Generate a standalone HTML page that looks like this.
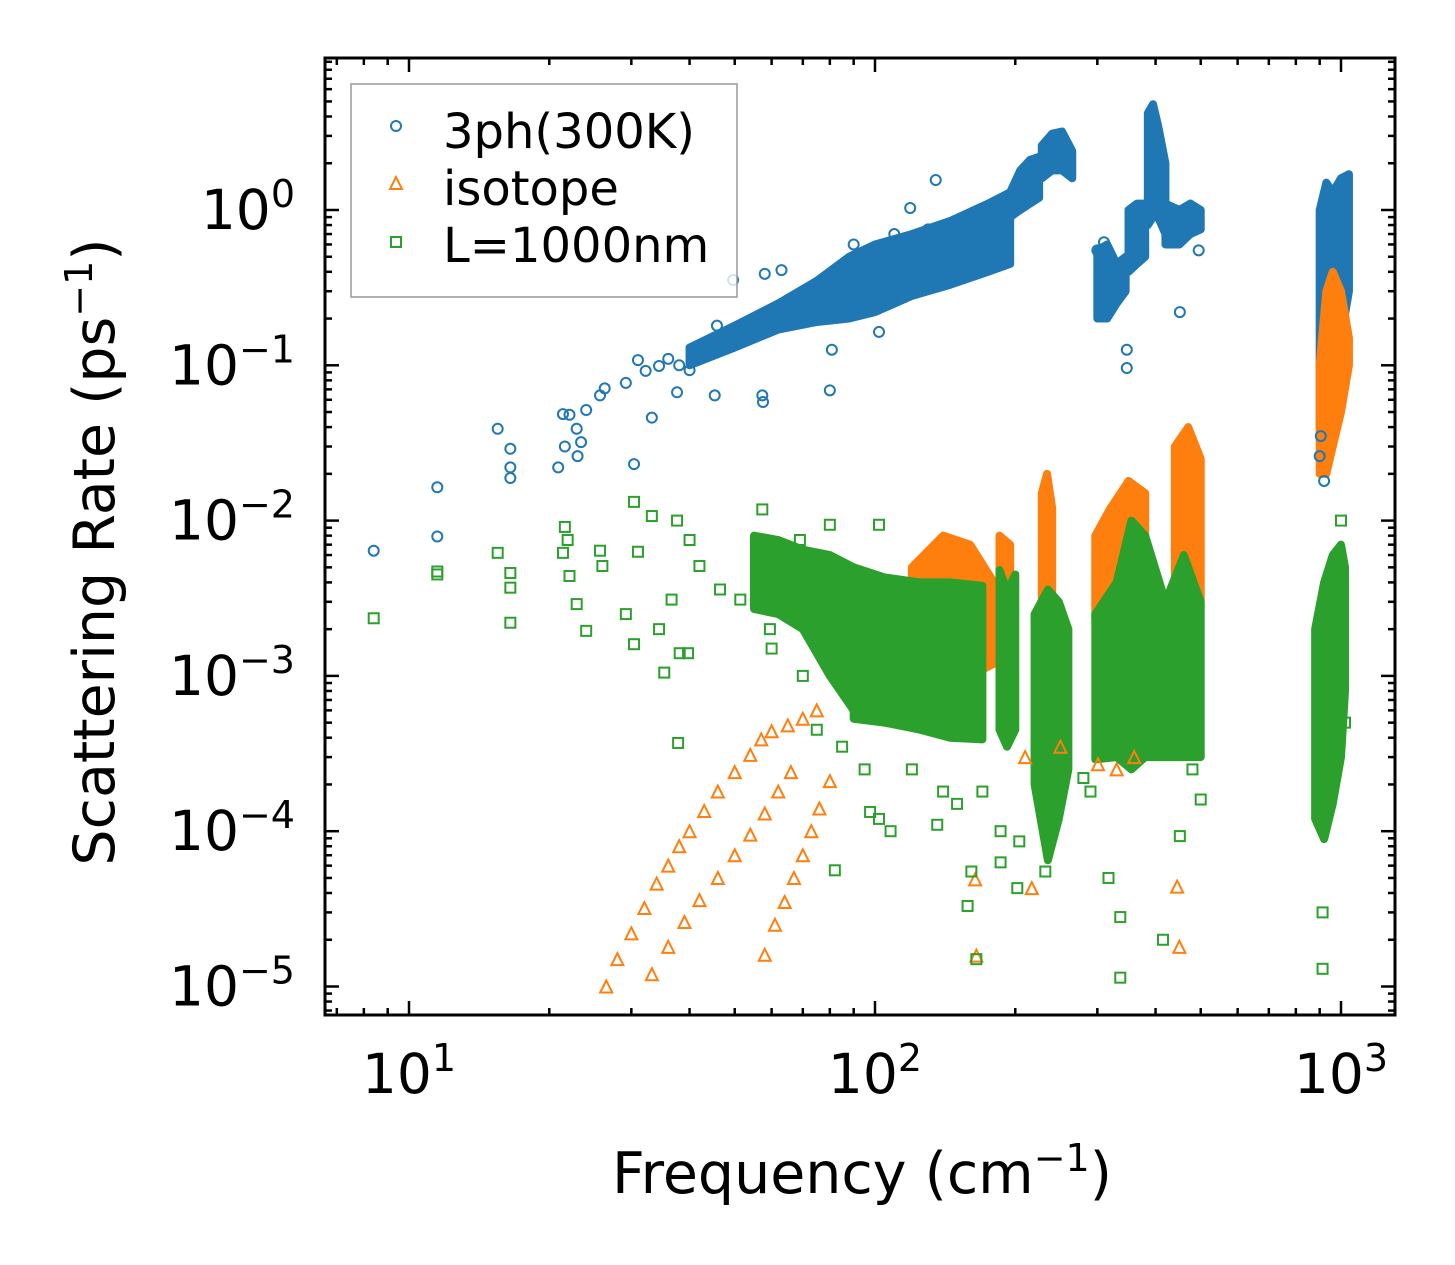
<!DOCTYPE html>
<html><head><meta charset="utf-8"><style>
html,body{margin:0;padding:0;background:#fff;}
svg{display:block;font-family:"DejaVu Sans","Liberation Sans",sans-serif;}
</style></head><body>
<svg id="chart" width="1455" height="1265" viewBox="0 0 1455 1265" xmlns="http://www.w3.org/2000/svg">
<g id="bands"></g>
<g id="marks"></g>
<g id="axes"></g>
<g id="legend">
  <rect x="351" y="84" width="386" height="213" fill="#fff" fill-opacity="0.8" stroke="#999" stroke-width="1.5"/>
  <circle cx="396" cy="126" r="5" fill="none" stroke="#1f77b4" stroke-width="2"/>
  <text x="443" y="148" font-size="48">3ph(300K)</text>
  <polygon points="396,177 390,189 402,189" fill="none" stroke="#ff7f0e" stroke-width="2"/>
  <text x="443" y="205" font-size="48">isotope</text>
  <rect x="391" y="237" width="10" height="10" fill="none" stroke="#2ca02c" stroke-width="2"/>
  <text x="443" y="262" font-size="48">L=1000nm</text>
</g>
<text x="862" y="1193" font-size="57" text-anchor="middle">Frequency (cm<tspan dy="-22" font-size="38">−1</tspan><tspan dy="22">)</tspan></text>
<text transform="translate(114,552) rotate(-90)" font-size="57" text-anchor="middle">Scattering Rate (ps<tspan dy="-22" font-size="38">−1</tspan><tspan dy="22">)</tspan></text>
</svg>
<script>
// ---- data ----
const xTickExps = [1, 2, 3];
const yTickExps = [0, -1, -2, -3, -4, -5];

const blueF = [8.4,11.5,11.5,15.5,16.5,16.5,16.5,20.9,21.4,21.6,22.1,22.9,23,23.4,24,25.7,26.3,30.4,29.2,31,32.2,33.2,34.4,37.6,40,45.8,45.3,49.6,58,63,57.5,57.3,80,80.8,102,119,135,186,347,347,451,495,900,920,905,36,38,42,44,52,55,60,68,72,90,110,130,160,300,310,320,325];
const blueR = [0.0064,0.0164,0.0079,0.039,0.029,0.022,0.0188,0.022,0.0485,0.030,0.048,0.039,0.026,0.032,0.0515,0.064,0.071,0.0231,0.077,0.108,0.092,0.046,0.099,0.067,0.093,0.18,0.064,0.354,0.388,0.41,0.058,0.064,0.069,0.126,0.164,1.03,1.56,0.64,0.126,0.096,0.22,0.55,0.026,0.018,0.035,0.11,0.1,0.12,0.13,0.15,0.17,0.2,0.22,0.25,0.6,0.7,0.75,0.9,0.55,0.62,0.5,0.3];

const orangeF = [26.5,28,30,32,34,36,38,40,43,46,50,54,57,60,65,70,75,33.2,36,39,42,46,50,54,58,62,66,58,61,64,67,70,73,76,80,164,165,217,445,450,301,210,250,330,360];
const orangeR = [1.0e-5,1.5e-5,2.2e-5,3.2e-5,4.6e-5,6e-5,8e-5,1.0e-4,1.35e-4,1.8e-4,2.4e-4,3.1e-4,3.9e-4,4.4e-4,4.8e-4,5.3e-4,6e-4,1.2e-5,1.8e-5,2.6e-5,3.6e-5,5e-5,7e-5,9.5e-5,1.3e-4,1.8e-4,2.4e-4,1.6e-5,2.5e-5,3.5e-5,5e-5,7e-5,1.0e-4,1.4e-4,2.1e-4,4.9e-5,1.58e-5,4.3e-5,4.4e-5,1.8e-5,2.7e-4,3e-4,3.5e-4,2.5e-4,3e-4];

const greenF = [8.4,11.5,11.5,15.5,16.5,16.5,16.5,21.4,21.6,21.9,22.1,22.9,24,26,25.7,29.2,30.4,30.4,31,33.2,34.4,35.3,38.1,37.8,39.7,36.6,37.6,40,42,46.5,51.4,57.3,59.5,69,80,82,102,97.6,102,108,136,158,161,186,202,186,165,204,232,317,336,336,415,451,913,913,1000,1020,60,70,75,85,95,120,140,150,170,280,290,480,500];
const greenR = [2.35e-3,4.7e-3,4.5e-3,6.2e-3,4.6e-3,3.7e-3,2.2e-3,6.2e-3,9.1e-3,7.5e-3,4.4e-3,2.9e-3,1.95e-3,5.1e-3,6.4e-3,2.5e-3,1.6e-3,0.0132,6.3e-3,0.0107,2e-3,1.05e-3,1.4e-3,3.7e-4,1.4e-3,3.1e-3,0.01,7.5e-3,5.1e-3,3.6e-3,3.1e-3,0.0118,2e-3,7.5e-3,0.0094,5.6e-5,9.4e-3,1.33e-4,1.2e-4,1.0e-4,1.1e-4,3.3e-5,5.5e-5,1.0e-4,4.3e-5,6.3e-5,1.5e-5,8.6e-5,5.5e-5,5e-5,2.8e-5,1.14e-5,2e-5,9.3e-5,1.3e-5,3e-5,0.01,5e-4,1.5e-3,1.0e-3,4.5e-4,3.5e-4,2.5e-4,2.5e-4,1.8e-4,1.5e-4,1.8e-4,2.2e-4,1.8e-4,2.5e-4,1.6e-4];

// dense clusters: [freq list, low rate list, high rate list]
const blueBands = [
  [[40,50,62,75,88,100,120,145,175,195],[0.1,0.13,0.17,0.19,0.2,0.22,0.28,0.33,0.4,0.45],[0.13,0.18,0.25,0.35,0.5,0.6,0.7,0.85,1.1,1.3]],
  [[195,205,215,225],[0.9,1.0,1.1,1.2],[1.3,1.8,2.1,2.2]],
  [[228,240,252,265],[1.6,1.8,1.8,1.6],[2.6,3.1,3.2,2.4]],
  [[300,315,330,345],[0.2,0.2,0.25,0.3],[0.55,0.6,0.45,0.5]],
  [[350,365,380],[0.4,0.45,0.5],[1.0,1.1,1.1]],
  [[385,395,405,420],[0.8,0.9,0.9,0.7],[4.2,4.8,3.5,2.0]],
  [[420,450,475,500],[0.6,0.6,0.7,0.75],[1.1,1.0,1.1,1.0]],
  [[900,930,960,1000,1040],[0.04,0.05,0.1,0.15,0.3],[1.0,1.5,1.3,1.6,1.7]]
];
const orangeBands = [
  [[120,140,160,180],[1.2e-3,1.0e-3,1.0e-3,1.2e-3],[5e-3,8e-3,7e-3,4e-3]],
  [[185,195],[1.2e-3,1.2e-3],[8e-3,7e-3]],
  [[228,234,240],[9.4e-4,1e-3,1.2e-3],[0.015,0.02,0.012]],
  [[297,320,350,380],[2.3e-3,2.5e-3,2.5e-3,2.5e-3],[0.008,0.012,0.018,0.015]],
  [[440,470,500],[3e-3,3e-3,3e-3],[0.03,0.04,0.025]],
  [[900,930,960,1000,1040],[0.02,0.02,0.03,0.05,0.1],[0.1,0.3,0.4,0.3,0.15]]
];
const greenBands = [
  [[55,62,70,80,90],[2.7e-3,2.5e-3,2.0e-3,1.0e-3,6e-4],[8e-3,7.5e-3,6.5e-3,6e-3,5e-3]],
  [[90,105,125,145,170],[5.3e-4,5e-4,4.5e-4,4e-4,3.9e-4],[5e-3,4.3e-3,4e-3,4e-3,3.8e-3]],
  [[185,192,200],[4.5e-4,3.5e-4,4.5e-4],[4.8e-3,3.5e-3,4.5e-3]],
  [[220,235,248,260],[2e-4,6.5e-5,1.2e-4,2.5e-4],[2.5e-3,3.6e-3,3e-3,2e-3]],
  [[297,330,355,380,420,460,500],[2.9e-4,3e-4,2.5e-4,3e-4,3e-4,3e-4,3e-4],[2.5e-3,4e-3,0.01,0.008,3e-3,6e-3,3e-3]],
  [[880,920,960,1000,1020],[1.2e-4,8.9e-5,1.5e-4,3e-4,8e-4],[2e-3,4e-3,6e-3,7e-3,5e-3]]
];

// ---- axes ----
const X0 = 409, XPD = 466, Y0 = 210, YPD = 155.3;
const L = 325, R = 1395, T = 58, B = 1015;
function xs(f){ return X0 + (Math.log10(f) - 1) * XPD; }
function ys(r){ return Y0 - Math.log10(r) * YPD; }
const NS = 'http://www.w3.org/2000/svg';
function mk(tag, attrs, parent){ const e = document.createElementNS(NS, tag); for (const k in attrs) e.setAttribute(k, attrs[k]); parent.appendChild(e); return e; }
const colors = {blue:'#1f77b4', orange:'#ff7f0e', green:'#2ca02c'};

const bandsG = document.getElementById('bands');
function drawBands(list, color, name){
  list.forEach(function(b){
    const pts = [];
    for (let i = 0; i < b[0].length; i++) pts.push(xs(b[0][i]) + ',' + ys(b[2][i]));
    for (let i = b[0].length - 1; i >= 0; i--) pts.push(xs(b[0][i]) + ',' + ys(b[1][i]));
    const p = mk('polygon', {points: pts.join(' '), fill: color, stroke: color, 'stroke-width': 8, 'stroke-linejoin': 'round'}, bandsG);
    
    
  });
}
const marksG = document.getElementById('marks');
function drawPoints(F, Rr, shape, color, name){
  for (let i = 0; i < F.length; i++){
    const x = xs(F[i]), y = ys(Rr[i]);
    let e;
    if (shape === 'circle') e = mk('circle', {cx:x, cy:y, r:5, fill:'none', stroke:color, 'stroke-width':2}, marksG);
    else if (shape === 'tri') e = mk('polygon', {points:(x)+','+(y-6)+' '+(x-6)+','+(y+6)+' '+(x+6)+','+(y+6), fill:'none', stroke:color, 'stroke-width':2}, marksG);
    else e = mk('rect', {x:x-5, y:y-5, width:10, height:10, fill:'none', stroke:color, 'stroke-width':2}, marksG);
    
    
  }
}
drawBands(blueBands, colors.blue, 'cluster-3ph');
drawPoints(blueF, blueR, 'circle', colors.blue, 'point-3ph');
drawBands(orangeBands, colors.orange, 'cluster-isotope');
drawPoints(orangeF, orangeR, 'tri', colors.orange, 'point-isotope');
drawBands(greenBands, colors.green, 'cluster-boundary');
drawPoints(greenF, greenR, 'square', colors.green, 'point-boundary');

const axesG = document.getElementById('axes');
const frame = mk('rect', {x:L, y:T, width:R-L, height:B-T, fill:'none', stroke:'#000', 'stroke-width':3}, axesG);


for (let e = 0; e <= 3; e++){
  for (let m = 1; m <= 9; m++){
    const v = m * Math.pow(10, e);
    const x = xs(v);
    if (x < L || x > R) continue;
    const len = m === 1 ? 14 : 7;
    mk('line', {x1:x, y1:B, x2:x, y2:B-len, stroke:'#000', 'stroke-width':2.5}, axesG);
    mk('line', {x1:x, y1:T, x2:x, y2:T+len, stroke:'#000', 'stroke-width':2.5}, axesG);
  }
}
for (let e = -6; e <= 0; e++){
  for (let m = 1; m <= 9; m++){
    const v = m * Math.pow(10, e);
    const y = ys(v);
    if (y < T || y > B) continue;
    const len = m === 1 ? 14 : 7;
    mk('line', {x1:L, y1:y, x2:L+len, y2:y, stroke:'#000', 'stroke-width':2.5}, axesG);
    mk('line', {x1:R, y1:y, x2:R-len, y2:y, stroke:'#000', 'stroke-width':2.5}, axesG);
  }
}
xTickExps.forEach(function(e){
  const t = mk('text', {x:xs(Math.pow(10,e)), y:1093, 'font-size':55, 'text-anchor':'middle'}, axesG);
  
  
  t.appendChild(document.createTextNode('10'));
  const s = mk('tspan', {dy:-22, 'font-size':38}, t); s.textContent = String(e);
});
yTickExps.forEach(function(e){
  const t = mk('text', {x:295, y:ys(Math.pow(10,e))+19, 'font-size':55, 'text-anchor':'end'}, axesG);
  
  
  t.appendChild(document.createTextNode('10'));
  const s = mk('tspan', {dy:-22, 'font-size':38}, t); s.textContent = (e < 0 ? '−' + (-e) : String(e));
});
</script>
</body></html>
